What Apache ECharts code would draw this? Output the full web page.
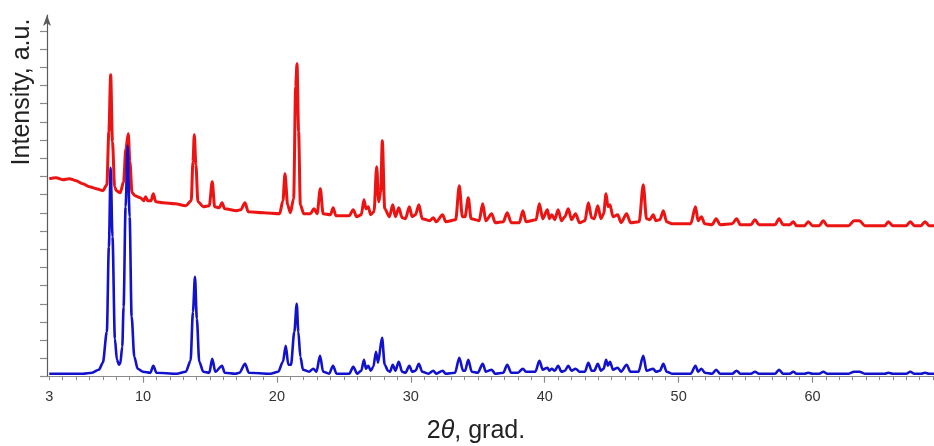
<!DOCTYPE html>
<html>
<head>
<meta charset="utf-8">
<script src="https://cdn.jsdelivr.net/npm/echarts@6/dist/echarts.min.js"></script>
<style>
  html, body { margin: 0; padding: 0; background: #fff; }
  #chart { width: 934px; height: 446px; }
</style>
</head>
<body>
<div id="chart"></div>
<script>
// Powder diffraction patterns, 2θ in degrees vs intensity (a.u.)
// Sample pattern (upper, red): measured trace on a sloping background
var samplePattern = [
  [3.0,198],[3.5,199],[4.0,197],[4.5,198],[5.0,196],[5.5,193],[6.0,190],[6.5,188],[7.0,186],
  [7.3,192],[7.45,245],[7.585,302],[7.72,235],[7.88,190],[8.0,186],[8.3,184],[8.55,195],[8.72,228],
  [8.9,243],[9.02,215],[9.18,184],[9.4,181],[9.8,179],[10.05,176],[10.2,180],[10.35,176],[10.6,176],
  [10.77,183],[10.95,175],[11.5,174],[12.4,173],[13.2,171],[13.6,176],[13.73,215],[13.83,242],
  [13.95,212],[14.1,175],[14.5,170],[14.95,171],[15.17,195],[15.35,170],[15.7,169],[15.9,174],
  [16.1,168],[17.0,166],[17.3,167],[17.62,174],[17.85,165],[19.0,164],[20.2,163],[20.45,176],
  [20.6,203],[20.8,172],[21.0,164],[21.25,178],[21.4,290],[21.5,313],[21.62,245],[21.75,172],
  [22.0,163],[22.5,163],[22.77,168],[23.0,163],[23.24,188],[23.45,163],[24.0,162],[24.2,169],
  [24.4,161],[25.4,161],[25.7,167],[25.95,160],[26.3,162],[26.5,177],[26.65,168],[26.82,170],
  [27.0,162],[27.25,165],[27.45,210],[27.6,175],[27.75,185],[27.87,236],[28.05,168],[28.4,160],
  [28.65,172],[28.85,160],[29.1,169],[29.35,159],[29.6,158],[29.89,170],[30.1,160],[30.35,162],
  [30.6,172],[30.85,158],[31.4,156],[31.68,159],[31.9,155],[32.38,162],[32.6,155],[33.35,157],
  [33.62,191],[33.85,160],[34.05,160],[34.29,179],[34.5,158],[35.1,156],[35.37,173],[35.6,156],
  [36.04,163],[36.3,154],[36.9,155],[37.2,164],[37.5,154],[38.1,154],[38.37,166],[38.6,155],
  [39.35,157],[39.6,173],[39.85,158],[40.2,167],[40.35,158],[40.52,162],[40.75,157],[41.0,167],
  [41.25,156],[41.5,160],[41.76,168],[42.0,157],[42.3,163],[42.6,154],[43.0,156],[43.26,174],
  [43.5,159],[43.7,158],[43.96,171],[44.2,158],[44.4,163],[44.58,183],[44.72,170],[44.87,172],
  [45.1,160],[45.45,162],[45.7,154],[46.12,163],[46.4,154],[47.05,155],[47.36,192],[47.6,158],
  [47.85,157],[48.1,162],[48.3,156],[48.6,157],[48.86,166],[49.1,155],[49.5,153],[50.9,153],
  [51.26,170],[51.45,156],[51.7,160],[51.95,153],[52.5,152],[52.8,158],[53.1,152],[54.0,153],
  [54.33,158],[54.6,152],[55.4,152],[55.7,157],[56.0,152],[57.2,152],[57.5,158],[57.8,152],
  [58.3,152],[58.56,155],[58.8,151],[59.4,151],[59.68,155],[60.0,151],[60.5,151],[60.8,156],
  [61.1,151],[62.7,151],[63.1,156],[63.5,156],[63.9,151],[65.4,151],[65.66,155],[66.0,151],
  [67.0,151],[67.3,155],[67.6,151],[68.1,151],[68.4,155],[68.7,151],[69.1,151]
];

// Reference pattern (lower, blue)
var referencePattern = [
  [3.0,3],[5.5,3],[6.2,4],[6.7,7],[7.0,14],[7.3,45],[7.45,130],[7.585,209],[7.72,140],[7.9,38],
  [8.05,17],[8.2,12],[8.3,13],[8.45,30],[8.55,70],[8.7,170],[8.85,231],[9.0,160],[9.15,60],
  [9.35,20],[9.6,8],[10.0,5],[10.55,4],[10.77,11],[11.0,4],[12.5,3],[13.2,5],[13.55,16],[13.73,65],
  [13.88,100],[14.02,58],[14.2,15],[14.5,5],[14.95,4],[15.17,18],[15.4,5],[15.9,11],[16.1,4],
  [16.9,3],[17.2,4],[17.62,13],[17.9,4],[19.5,3],[20.1,5],[20.45,15],[20.66,31],[20.85,12],
  [21.05,12],[21.3,45],[21.48,73],[21.6,45],[21.75,20],[21.95,7],[22.4,5],[22.72,8],[22.95,5],
  [23.22,21],[23.45,5],[23.9,3],[24.19,11],[24.45,3],[25.4,3],[25.7,10],[26.0,3],[26.3,6],
  [26.5,17],[26.65,8],[26.82,11],[27.0,6],[27.2,10],[27.4,25],[27.55,14],[27.85,39],[28.05,12],
  [28.3,6],[28.45,5],[28.65,12],[28.85,6],[29.1,15],[29.35,5],[29.6,4],[29.89,11],[30.1,5],
  [30.35,6],[30.6,13],[30.85,5],[31.3,3],[31.68,6],[31.9,3],[32.38,6],[32.6,3],[33.3,4],
  [33.62,19],[33.9,6],[34.05,6],[34.29,17],[34.55,5],[35.0,4],[35.37,13],[35.6,5],[36.04,7],
  [36.3,3],[36.9,4],[37.2,12],[37.5,4],[38.0,4],[38.37,8],[38.6,5],[39.3,5],[39.6,16],[39.85,7],
  [40.2,9],[40.35,6],[40.52,8],[40.75,6],[41.0,11],[41.25,5],[41.5,6],[41.76,11],[42.0,6],
  [42.3,8],[42.6,5],[43.0,5],[43.26,14],[43.5,6],[43.7,6],[43.96,13],[44.2,6],[44.4,8],
  [44.58,17],[44.72,11],[44.87,15],[45.1,7],[45.45,9],[45.7,5],[46.12,12],[46.4,5],[47.0,5],
  [47.36,21],[47.6,6],[48.1,8],[48.3,5],[48.6,6],[48.86,13],[49.1,5],[49.5,3],[50.9,3],
  [51.26,11],[51.45,5],[51.7,8],[51.95,4],[52.5,3],[52.8,7],[53.1,3],[54.0,3],[54.33,6],
  [54.6,3],[55.4,3],[55.7,5],[56.0,3],[57.2,3],[57.5,7],[57.8,3],[58.3,3],[58.56,5],[58.8,3],
  [59.4,3],[59.68,4],[60.0,3],[60.5,3],[60.8,5],[61.1,3],[62.7,3],[63.1,5],[63.5,5],[63.9,3],
  [65.4,3],[65.66,4],[66.0,3],[67.0,3],[67.3,5],[67.6,3],[68.1,3],[68.4,4],[68.7,3],[69.1,3]
];

// Axis labels and ticks
var xLabelValues = [3, 10, 20, 30, 40, 50, 60];
var xMajorTicks = [10, 20, 30, 40, 50, 60];
var xMinorTicks = [3,4,5,6,7,8,9,11,12,13,14,15,16,17,18,19,21,22,23,24,25,26,27,28,29,
  31,32,33,34,35,36,37,38,39,41,42,43,44,45,46,47,48,49,51,52,53,54,55,56,57,58,59,
  61,62,63,64,65,66,67,68,69];
var yTickStep = 18.2;
var yTickCount = 20;

var X_MIN = 2.83, X_MAX = 69.07, Y_MAX = 361.7;

var yTicks = [];
for (var i = 0; i < yTickCount; i++) yTicks.push(+(i * yTickStep).toFixed(2));

var axisGray = '#8a8a8a';
var font = '"Liberation Sans", Arial, sans-serif';

var chart = echarts.init(document.getElementById('chart'), null, { renderer: 'canvas' });

chart.setOption({
  animation: false,
  backgroundColor: '#ffffff',
  grid: {
    left: 47, right: 0, top: 15, bottom: 69.3,
    containLabel: false,
    outerBoundsMode: 'none'
  },
  xAxis: [
    {
      type: 'value', min: X_MIN, max: X_MAX, position: 'bottom',
      splitLine: { show: false },
      axisLine: { show: true, lineStyle: { color: axisGray, width: 1.2 } },
      axisTick: { show: true, customValues: xMajorTicks, length: 6, lineStyle: { color: axisGray, width: 1.2 } },
      axisLabel: {
        show: true, customValues: xLabelValues, margin: 13,
        color: '#333', fontSize: 14.5, fontFamily: font
      }
    },
    {
      type: 'value', min: X_MIN, max: X_MAX, position: 'bottom',
      splitLine: { show: false },
      axisLine: { show: false },
      axisTick: { show: true, customValues: xMinorTicks, length: 3.5, lineStyle: { color: axisGray, width: 1 } },
      axisLabel: { show: false }
    }
  ],
  yAxis: {
    type: 'value', min: 0, max: Y_MAX,
    splitLine: { show: false },
    axisLine: {
      show: true, symbol: ['none', 'arrow'], symbolSize: [6, 11], symbolOffset: [0, 0],
      lineStyle: { color: '#5a5a5a', width: 1.2 }
    },
    axisTick: { show: true, customValues: yTicks, length: 7, lineStyle: { color: axisGray, width: 1.2 } },
    axisLabel: { show: false }
  },
  series: [
    {
      name: 'sample', type: 'line', xAxisIndex: 0, data: samplePattern,
      showSymbol: false, smooth: 0.3, smoothMonotone: 'x',
      lineStyle: { color: '#ec1313', width: 3 }, z: 3
    },
    {
      name: 'reference', type: 'line', xAxisIndex: 0, data: referencePattern,
      showSymbol: false, smooth: 0.3, smoothMonotone: 'x',
      lineStyle: { color: '#1212cc', width: 2.6 }, z: 4
    }
  ],
  graphic: [
    {
      type: 'text', x: 22, y: 92, rotation: Math.PI / 2,
      style: {
        text: 'Intensity, a.u.', fill: '#222', font: '25px ' + font,
        align: 'center', verticalAlign: 'middle'
      }
    },
    {
      type: 'text', x: 476, y: 431,
      style: {
        text: '{n|2}{i|θ}{n|, grad.}', align: 'center', verticalAlign: 'middle',
        rich: {
          n: { fontSize: 25, fontFamily: font, fill: '#222' },
          i: { fontSize: 25, fontFamily: font, fontStyle: 'italic', fill: '#222' }
        }
      }
    }
  ]
});
</script>
</body>
</html>
